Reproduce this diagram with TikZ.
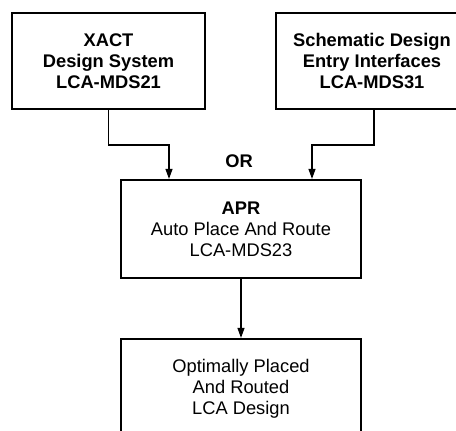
\documentclass[tikz,border=0pt]{standalone}
\usepackage{fontspec}
\setmainfont{Liberation Sans}
\usetikzlibrary{arrows.meta}
\begin{document}
\begin{tikzpicture}[x=1pt,y=-1pt,
  boxstyle/.style={draw,line width=2.2pt,align=center,inner sep=0pt,
    font=\fontsize{18.3}{21}\selectfont},
  arr/.style={line width=1.2pt,-{Triangle[length=10pt,width=7pt]}}]
\useasboundingbox (0,0) rectangle (456,431);
\clip (0,0) rectangle (456,431);
\node[boxstyle,minimum width=193,minimum height=96] (b1) at (108.5,61)
  {\bfseries XACT\\\bfseries Design System\\\bfseries LCA-MDS21};
\node[boxstyle,minimum width=192,minimum height=96] (b2) at (372,61)
  {\bfseries Schematic Design\\\bfseries Entry Interfaces\\\bfseries LCA-MDS31};
\node[boxstyle,minimum width=240,minimum height=98] (b3) at (241,229)
  {\bfseries APR\\Auto Place And Route\\LCA-MDS23};
\node[boxstyle,minimum width=240,minimum height=100] (b4) at (241,389)
  {Optimally Placed\\And Routed\\LCA Design};
\node[font=\fontsize{18.3}{21}\selectfont\bfseries,inner sep=0pt] (or) at (239,161) {OR};
\coordinate (j1) at (169,145);
\coordinate (j2) at (312,145);
\draw[arr] (b1.south) |- (j1) -- (j1 |- b3.north);
\draw[arr] (b2.south -| 374,0) |- (j2) -- (j2 |- b3.north);
\draw[arr] (b3.south) -- (b4.north);
\end{tikzpicture}
\end{document}
